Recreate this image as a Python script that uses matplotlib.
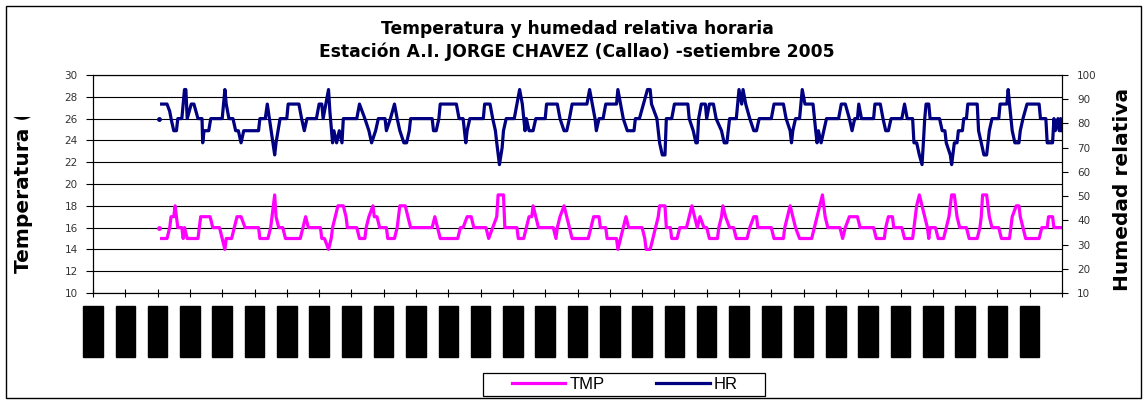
import numpy as np
import matplotlib
matplotlib.use("Agg")
import matplotlib.pyplot as plt
from matplotlib.patches import Rectangle
from matplotlib.transforms import Bbox, TransformedBbox

nan = np.nan

# ---- data: hour of month (0 = 1 Sep 00h) and values read at breakpoints ----
tmp_h = [49, 50, 51, 55, 57, 58, 60, 61, 62, 63, 66, 67, 68, 70, 78, 80, 87, 89, 94, 96, 98, 99, 103, 105, 107, 110,
         113, 123, 124, 130, 132, 133, 135, 136, 138, 141, 143, 154, 156, 158, 160, 169, 170, 172, 175, 177, 178, 180,
         182, 186, 188, 189, 196, 198, 202, 203, 205, 208, 209, 211, 213, 218, 219, 224, 226, 227, 228, 232, 234, 236,
         252, 254, 256, 258, 271, 273, 275, 278, 281, 283, 292, 294, 297, 300, 301, 305, 306, 315, 316, 320, 322, 324,
         326, 327, 329, 331, 342, 344, 345, 347, 350, 352, 354, 356, 368, 370, 372, 376, 377, 381, 382, 389, 390, 392,
         394, 396, 398, 408, 410, 411, 414, 416, 418, 420, 421, 425, 426, 429, 430, 434, 436, 441, 443, 445, 447, 449,
         451, 454, 456, 458, 464, 465, 467, 468, 470, 473, 476, 478, 486, 488, 491, 493, 494, 504, 506, 513, 514, 516,
         518, 520, 522, 525, 534, 536, 538, 540, 542, 543, 544, 546, 555, 557, 559, 562, 568, 570, 580, 582, 588, 589,
         591, 594, 595, 601, 603, 609, 610, 612, 614, 616, 618, 620, 621, 622, 626, 628, 632, 634, 636, 637, 638, 640,
         641, 642, 644, 649, 651, 657, 659, 660, 661, 664, 666, 668, 673, 675, 681, 683, 686, 688, 689, 691, 693, 703,
         705, 709, 710, 713, 714, 720]
tmp_v = [16, nan, 15, 15, 16, 17, 17, 18, 17, 16, 16, 15, 16, 15, 15, 17, 17, 16, 16, 15, 14, 15, 15, 16, 17, 17,
         16, 16, 15, 15, 16, 17, 19, 17, 16, 16, 15, 15, 16, 17, 16, 16, 15, 15, 14, 15, 16, 17,
         18, 18, 17, 16, 16, 15, 15, 16, 17, 18, 17, 17, 16, 16, 15, 15, 16, 17, 18, 18, 17, 16,
         16, 17, 16, 15, 15, 16, 16, 17, 17, 16, 16, 15, 16, 17, 19, 19, 16, 16, 15, 15, 16, 17,
         17, 18, 17, 16, 16, 15, 16, 17, 18, 17, 16, 15, 15, 16, 17, 17, 16, 16, 15, 15, 14, 15,
         16, 17, 16, 16, 15, 14, 14, 15, 16, 17, 18, 18, 16, 16, 15, 15, 16, 16, 17, 18, 17, 16,
         17, 16, 16, 15, 15, 16, 17, 18, 17, 16, 16, 15, 15, 16, 17, 17, 16, 16, 15, 15, 16, 17,
         18, 17, 16, 15, 15, 16, 17, 18, 19, 18, 17, 16, 16, 15, 16, 17, 17, 16, 16, 15, 15, 16,
         17, 17, 16, 16, 15, 15, 16, 18, 19, 18, 17, 16, 15, 16, 16, 15, 15, 16, 17, 18, 19, 19,
         18, 17, 16, 16, 15, 15, 16, 17, 19, 19, 17, 16, 16, 15, 15, 17, 18, 18, 17, 16, 15, 15,
         16, 16, 17, 17, 16, 16]

hr_h = [49, 50, 51, 55, 57, 58, 60, 62, 63, 66, 68, 69, 70, 73, 75, 78, 81, 81.5, 82.5, 86, 87.5, 96, 98, 99, 101,
        104, 106, 108, 110, 112, 123, 124, 128, 129.5, 135, 136, 139, 144, 145, 153, 155, 157, 159, 166, 168, 170, 171,
        173, 175, 176, 178, 179, 181, 183, 185, 186, 196, 198, 200, 202, 205, 207, 210, 212, 217, 218, 221, 224, 226,
        228, 231, 233, 235, 236, 252, 253, 255, 257, 258, 270, 272, 275, 277, 278, 280, 290, 291, 295, 297, 299, 300,
        302, 304, 305, 307, 313, 315, 317, 319, 321, 322, 324, 327, 329, 336, 337, 345, 347, 350, 352, 354, 356, 367,
        369, 371, 373, 374, 376, 379, 381, 389, 390, 392, 394, 397, 402, 403, 406, 409, 412, 414, 415, 419, 421, 423,
        425, 426, 430, 432, 442, 443, 446, 448, 449, 450, 452, 455, 456, 458, 461, 463, 467, 469, 471, 472, 473, 478,
        480, 482, 483, 485, 488, 491, 493, 495, 504, 506, 513, 515, 518, 519, 520, 522, 525, 526, 527, 529, 535, 537,
        538, 539, 541, 543, 545, 554, 556, 559, 562, 564, 566, 568, 569, 571, 580, 581, 585, 587, 589, 591, 593, 601,
        603, 605, 609, 610, 612, 614, 616, 617, 618, 619, 621, 622, 629, 631, 633, 634, 637, 638, 640, 642, 643, 646,
        647, 649, 650, 657, 658, 660, 662, 664, 665, 666, 668, 673, 674, 679, 680, 681, 683, 685, 688, 689, 691, 694,
        703, 704, 708, 709, 713, 714, 715, 717, 718, 719, 720]
hr_v = [82, nan, 88, 88, 85, 82, 77, 77, 82, 82, 94, 94, 82, 88, 88, 82, 82, 72, 77, 77, 82, 82, 94, 88, 82,
        82, 77, 77, 72, 77, 77, 82, 82, 88, 67, 72, 82, 82, 88, 88, 82, 77, 82, 82, 88, 88, 82,
        88, 94, 85, 72, 77, 72, 77, 72, 82, 82, 88, 85, 82, 77, 72, 77, 82, 82, 77, 82, 88, 82,
        77, 72, 72, 77, 82, 82, 77, 77, 82, 88, 88, 82, 82, 72, 77, 82, 82, 88, 88, 82, 77, 72,
        63, 70, 77, 82, 82, 88, 94, 88, 77, 82, 77, 77, 82, 82, 88, 88, 82, 77, 77, 82, 88, 88,
        94, 88, 82, 77, 82, 82, 88, 88, 94, 88, 82, 77, 77, 82, 82, 88, 94, 94, 88, 82, 72, 67,
        67, 82, 82, 88, 88, 82, 77, 72, 72, 82, 88, 88, 82, 88, 88, 82, 77, 72, 72, 77, 82, 82,
        94, 88, 94, 88, 82, 77, 77, 82, 82, 88, 88, 82, 77, 72, 77, 82, 82, 88, 94, 88, 88, 77,
        72, 77, 72, 77, 82, 82, 88, 88, 82, 77, 82, 82, 88, 82, 82, 88, 88, 82, 77, 77, 82, 82,
        88, 82, 82, 72, 72, 67, 63, 72, 82, 88, 88, 82, 82, 77, 77, 72, 67, 63, 72, 72, 77, 77,
        82, 82, 88, 88, 77, 72, 67, 67, 72, 77, 82, 82, 88, 88, 94, 88, 77, 72, 72, 77, 82, 88,
        88, 82, 82, 72, 72, 82, 77, 82, 77, 82, 77]

day_labels = ["%02d/09/05" % d for d in range(1, 31)]
temp_ticks = list(range(10, 31, 2))
hr_ticks = list(range(10, 101, 10))

title1 = "Temperatura y humedad relativa horaria"
title2 = "Estación A.I. JORGE CHAVEZ (Callao) -setiembre 2005"

W, H = 1144, 401
fig = plt.figure(figsize=(W / 100, H / 100), dpi=100)
fig.patch.set_facecolor("white")

ax = fig.add_axes([93 / W, 1 - 293 / H, (1062 - 93) / W, (293 - 75) / H])
ax2 = ax.twinx()

l_tmp, = ax.plot(tmp_h, tmp_v, color="#FF00FF", lw=2.3, solid_joinstyle="round", zorder=3)
ax.plot(tmp_h[:1], tmp_v[:1], "o", color="#FF00FF", ms=2.5, zorder=3)
l_hr, = ax2.plot(hr_h, hr_v, color="#000080", lw=2.3, solid_joinstyle="round", zorder=3)
ax2.plot(hr_h[:1], hr_v[:1], "o", color="#000080", ms=2.5, zorder=3)

ax.set_xlim(0, 720)
ax.set_ylim(10, 30)
ax2.set_ylim(10, 100)
ax.set_yticks(temp_ticks)
ax2.set_yticks(hr_ticks)
ax.yaxis.grid(True, color="black", lw=0.8)
ax.set_axisbelow(True)

xt = np.arange(0, 721, 24)
ax.set_xticks(xt)
ax.set_xticklabels(day_labels + [""], rotation=90, fontsize=6.5, color="black", va="top")
for lbl in ax.get_xticklabels():
    if lbl.get_text():
        lbl.set_bbox(dict(facecolor="black", edgecolor="black", boxstyle="square,pad=0.58"))

for a in (ax, ax2):
    for s in a.spines.values():
        s.set_color("black")
        s.set_linewidth(0.8)

ax.tick_params(axis="x", direction="inout", length=6, width=0.8, pad=10)
ax.tick_params(axis="y", direction="out", length=5, width=0.8, pad=6, labelsize=7.5, labelcolor="#333333")
ax2.tick_params(axis="y", direction="out", length=4, width=0.8, pad=7, labelsize=7.5, labelcolor="#333333")

# titles
fig.text(577 / W, 1 - 34 / H, title1, ha="center", va="baseline", fontsize=12.3,
         fontweight="bold", family="DejaVu Sans")
fig.text(577 / W, 1 - 57 / H, title2, ha="center", va="baseline", fontsize=12.3,
         fontweight="bold", family="DejaVu Sans")

# axis titles
yl = fig.text(24 / W, 1 - 273 / H, "Temperatura (°C)", rotation=90, ha="center", va="bottom",
              fontsize=14.5, fontweight="bold", family="DejaVu Sans")
yl.set_clip_box(TransformedBbox(Bbox.from_extents(0, 0, 1, 1 - 117 / H), fig.transFigure))
yl.set_clip_on(True)
fig.text(1123 / W, 1 - 189 / H, "Humedad relativa", rotation=90, ha="center", va="center",
         fontsize=14.5, fontweight="bold", family="DejaVu Sans")

# legend
fig.legend([l_tmp, l_hr], ["TMP", "HR"], loc="center", bbox_to_anchor=(625 / W, 1 - 384.5 / H),
           ncol=2, frameon=False, prop={"family": "Liberation Sans", "size": 12},
           handlelength=3.2, handletextpad=0.25, columnspacing=3.1)
fig.patches.append(Rectangle((483 / W, 1 - 396 / H), 282 / W, 23 / H, transform=fig.transFigure,
                             fill=False, edgecolor="black", lw=0.9))
# chart border
fig.patches.append(Rectangle((6 / W, 1 - 398 / H), 1135 / W, 392 / H, transform=fig.transFigure,
                             fill=False, edgecolor="black", lw=1))

fig.savefig("out.png", dpi=100)
